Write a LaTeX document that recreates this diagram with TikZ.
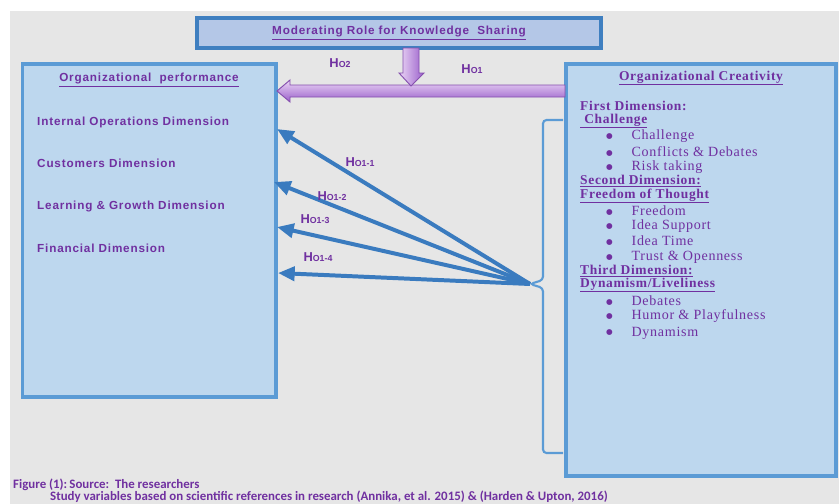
\documentclass[tikz,border=0pt]{standalone}
\usepackage{fontspec}
\setmainfont{Liberation Serif}
\newfontfamily\sansfont[LetterSpace=7]{Liberation Sans}
\newfontfamily\seriffont[LetterSpace=5]{Liberation Serif}
\newfontfamily\labelfont{Liberation Sans}
\newfontfamily\captionfont{Carlito}
\newfontfamily\bulletfont{DejaVu Sans}
\usepackage{tikz}
\usetikzlibrary{arrows.meta}

\definecolor{bggray}{HTML}{E6E6E6}
\definecolor{boxfill}{HTML}{BDD7EE}
\definecolor{boxline}{HTML}{5B9BD5}
\definecolor{modfill}{HTML}{B4C7E7}
\definecolor{modline}{HTML}{3F7FC0}
\definecolor{txtpurple}{HTML}{7030A0}
\definecolor{linkblue}{HTML}{3A7BBF}
\definecolor{arrlight}{HTML}{EBD6F5}
\definecolor{arrdark}{HTML}{9A5FCB}

\newcommand\hyp[1]{H{\fontsize{7.5}{9}\selectfont #1}}
\newcommand\bul{\raisebox{1pt}{\bulletfont\fontsize{6.5}{7}\selectfont ●}\hspace{16pt}}

\begin{document}
\begin{tikzpicture}[x=0.03cm, y=-0.03cm, >={Triangle[length=5mm,width=4.2mm]},
  panel/.style={draw=boxline, fill=boxfill, line width=3.4pt, inner sep=0pt},
  dimhead/.style={text=txtpurple, inner sep=0pt, font=\sansfont\bfseries\fontsize{10}{12}\selectfont},
  dimitem/.style={dimhead, anchor=west},
  crehead/.style={text=txtpurple, inner sep=0pt, anchor=west, font=\seriffont\bfseries\fontsize{11.5}{13}\selectfont},
  creitem/.style={text=txtpurple, inner sep=0pt, anchor=west, font=\seriffont\fontsize{12}{13}\selectfont},
  hyplabel/.style={text=txtpurple, inner sep=0pt, font=\labelfont\bfseries\fontsize{11}{13}\selectfont},
  link/.style={draw=linkblue, line width=3.4pt, ->},
  hollow/.style={draw=txtpurple!85, line width=0.8pt},
  bracket/.style={draw=boxline, line width=1.8pt, rounded corners=3pt},
  caption/.style={text=txtpurple, inner sep=0pt, anchor=west, font=\captionfont\bfseries\fontsize{11}{12}\selectfont}]
\useasboundingbox (0,0) rectangle (839,504);
\fill[bggray] (10,11) rectangle (839,504);

% boxes
\node[name=mod, panel, draw=modline, fill=modfill, line width=3pt, minimum width=12.12cm, minimum height=0.9cm] at (399,33) {};
\node[name=perf, panel, minimum width=7.59cm, minimum height=9.99cm] at (149,230.5) {};
\node[name=cre, panel, minimum width=8.1cm, minimum height=12.36cm] at (701,270) {};

\node[name=mod_title, dimhead] at (mod) {\underline{Moderating Role for Knowledge\ \ Sharing}};

% left box
\node[name=perf_title, dimhead] at (149,80) {\underline{Organizational\ \ performance}};
\node[name=perf_1, dimitem] at (37,122) {Internal Operations Dimension};
\node[name=perf_2, dimitem] at (37,163) {Customers Dimension};
\node[name=perf_3, dimitem] at (37,206) {Learning \& Growth Dimension};
\node[name=perf_4, dimitem] at (37,248) {Financial Dimension};

% right box
\node[name=cre_title, crehead, anchor=center] at (701,78) {\underline{Organizational Creativity}};
\node[name=cre_d1, crehead] at (580,106) {First Dimension:};
\node[name=cre_d1_name, crehead] at (580,121) {\underline{\ Challenge}};
\node[name=cre_d1_1, creitem] at (606,136) {\bul Challenge};
\node[name=cre_d1_2, creitem] at (606,152) {\bul Conflicts \& Debates};
\node[name=cre_d1_3, creitem] at (606,167) {\bul Risk taking};
\node[name=cre_d2, crehead] at (580,181) {\underline{Second Dimension:}};
\node[name=cre_d2_name, crehead] at (580,196) {\underline{Freedom of Thought}};
\node[name=cre_d2_1, creitem] at (606,211) {\bul Freedom};
\node[name=cre_d2_2, creitem] at (606,226) {\bul Idea Support};
\node[name=cre_d2_3, creitem] at (606,241) {\bul Idea Time};
\node[name=cre_d2_4, creitem] at (606,257) {\bul Trust \& Openness};
\node[name=cre_d3, crehead] at (580,271) {\underline{Third Dimension:}};
\node[name=cre_d3_name, crehead] at (580,285) {\underline{Dynamism/Liveliness}};
\node[name=cre_d3_1, creitem] at (606,301) {\bul Debates};
\node[name=cre_d3_2, creitem] at (606,316) {\bul Humor \& Playfulness};
\node[name=cre_d3_3, creitem] at (606,333) {\bul Dynamism};

% hollow arrows
\draw[hollow, top color=arrlight, bottom color=arrdark] (565,85) -- (290,85) -- (290,80) -- (277,91) -- (290,102) -- (290,97) -- (565,97) -- cycle;
\draw[hollow, left color=arrlight, right color=arrdark] (403,48) -- (403,73) -- (399,73) -- (411,86) -- (424,73) -- (419,73) -- (419,48) -- cycle;
\node[name=lbl_h2, hyplabel] at (340,63) {\hyp{O2}};
\node[name=lbl_h1, hyplabel] at (472,69) {\hyp{O1}};

% bracket and links
\coordinate (hub) at (530,284);
\coordinate (perf_tip_1) at (277,129);
\coordinate (perf_tip_2) at (274,182);
\coordinate (perf_tip_3) at (277,227);
\coordinate (perf_tip_4) at (278,273);
\draw[bracket] (563,120) -- (543,120) -- (543,280) -- (hub) -- (543,288) -- (543,453) -- (563,453);
\draw(hub) edge[link](perf_tip_1);
\draw(hub) edge[link](perf_tip_2);
\draw(hub) edge[link](perf_tip_3);
\draw(hub) edge[link](perf_tip_4);
\node[name=lbl_h11, hyplabel] at (360,162) {\hyp{O1-1}};
\node[name=lbl_h12, hyplabel] at (332,196) {\hyp{O1-2}};
\node[name=lbl_h13, hyplabel] at (315,219) {\hyp{O1-3}};
\node[name=lbl_h14, hyplabel] at (318,257) {\hyp{O1-4}};

% caption
\node[name=cap_1, caption] at (13,485) {Figure (1):\,Source:\ \ The researchers};
\node[name=cap_2, caption] at (50,496.5) {Study variables based on scientific references in research (Annika, et al. 2015) \& (Harden \& Upton, 2016)};
\end{tikzpicture}
\end{document}
